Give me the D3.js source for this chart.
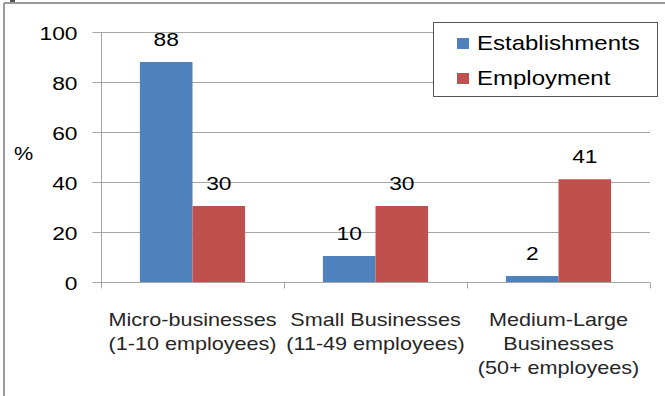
<!DOCTYPE html>
<html>
<head>
<meta charset="utf-8">
<script src="https://cdn.jsdelivr.net/npm/d3@7"></script>
<style>
  html, body { margin: 0; padding: 0; background: #fff; }
  svg { display: block; font-family: "Liberation Sans", Arial, sans-serif; }
</style>
</head>
<body>
<svg id="chart" width="665" height="396"></svg>
<script>
// ---- data ----
const categories = ["Micro-businesses", "Small Businesses", "Medium-Large Businesses"];
const categoryLines = [
  ["Micro-businesses", "(1-10 employees)"],
  ["Small Businesses", "(11-49 employees)"],
  ["Medium-Large", "Businesses", "(50+ employees)"]
];
const seriesNames = ["Establishments", "Employment"];
const establishments = [88, 10.4, 2.4];
const employment = [30.4, 30.4, 41.1];
const yTicks = [0, 20, 40, 60, 80, 100];
const yLabel = "%";

// ---- layout ----
const svg = d3.select("#chart");
const W = 665, H = 396;
const colors = { "Establishments": "#4F81BD", "Employment": "#C0504D" };
const SX = 1.2; // horizontal glyph stretch seen in the reference

const x = d3.scaleBand().domain(categories).range([101, 650]).paddingInner(0).paddingOuter(0);
const xs = d3.scaleBand().domain(seriesNames).range([0, x.bandwidth()]).paddingInner(0).paddingOuter(0.74);
const y = d3.scaleLinear().domain([0, 100]).range([282, 32]);

const rows = categories.map((c, i) => ({ cat: c, values: [
  { s: "Establishments", v: establishments[i] },
  { s: "Employment", v: employment[i] }
]}));

// frame
svg.append("line").attr("x1", 4).attr("x2", 4).attr("y1", 3).attr("y2", H).attr("stroke", "#9a9a9a").attr("stroke-width", 2);
svg.append("line").attr("x1", 4).attr("x2", W).attr("y1", 3).attr("y2", 3).attr("stroke", "#9a9a9a").attr("stroke-width", 2);
svg.append("rect").attr("x", 10).attr("y", 0).attr("width", 5).attr("height", 2).attr("fill", "#555");

function stretchedText(g, tx, ty, str, anchor) {
  return g.append("text")
    .attr("transform", `translate(${tx},${ty}) scale(${SX},1)`)
    .attr("text-anchor", anchor)
    .text(str);
}

// gridlines
svg.append("g").selectAll("line").data(yTicks.filter(d => d > 0)).join("line")
  .attr("x1", 101).attr("x2", 650)
  .attr("y1", d => Math.round(y(d)) + 0.5).attr("y2", d => Math.round(y(d)) + 0.5)
  .attr("stroke", "#a6a6a6").attr("stroke-width", 1);

// y axis
const yAxis = svg.append("g").attr("transform", "translate(101.5,0)")
  .call(d3.axisLeft(y).tickValues(yTicks).tickSize(9).tickFormat(""));
yAxis.select(".domain").attr("stroke", "#a6a6a6").attr("d", `M0,${y(100)}V${y(0)}`);
yAxis.selectAll(".tick line").attr("stroke", "#a6a6a6");
yAxis.selectAll(".tick").each(function(d) {
  d3.select(this).append("text")
    .attr("transform", `translate(-24,7) scale(${SX},1)`)
    .attr("text-anchor", "end")
    .attr("fill", "#000")
    .attr("font-size", 19)
    .text(d);
});

// y label
stretchedText(svg, 14, 160, yLabel, "start").attr("font-size", 18).attr("fill", "#000");

// x axis
const xAxis = svg.append("g").attr("transform", "translate(0,282.5)")
  .call(d3.axisBottom(x).tickSize(0).tickFormat(""));
xAxis.select(".domain").attr("stroke", "#a6a6a6").attr("d", "M101,0H650");
const bounds = [101].concat(categories.map(c => x(c) + x.bandwidth()));
xAxis.append("g").selectAll("line").data(bounds).join("line")
  .attr("x1", d => Math.round(d) + 0.5).attr("x2", d => Math.round(d) + 0.5)
  .attr("y1", 0).attr("y2", 6).attr("stroke", "#a6a6a6");

// bars
const groups = svg.append("g").selectAll("g").data(rows).join("g")
  .attr("transform", d => `translate(${x(d.cat)},0)`);
groups.selectAll("rect").data(d => d.values).join("rect")
  .attr("x", d => xs(d.s))
  .attr("width", xs.bandwidth())
  .attr("y", d => y(d.v))
  .attr("height", d => y(0) - y(d.v))
  .attr("fill", d => colors[d.s]);

// value labels
groups.each(function(d) {
  const g = d3.select(this);
  d.values.forEach(v => {
    stretchedText(g, xs(v.s) + xs.bandwidth() / 2, y(v.v) - 16, d3.format(".0f")(v.v), "middle")
      .attr("font-size", 19).attr("fill", "#000");
  });
});

// category labels
categories.forEach((c, i) => {
  const cx = x(c) + x.bandwidth() / 2;
  categoryLines[i].forEach((line, j) => {
    stretchedText(svg, cx, 326 + j * 24, line, "middle")
      .attr("font-size", 18).attr("fill", "#262626");
  });
});

// legend
const lg = svg.append("g");
lg.append("rect").attr("x", 433.5).attr("y", 22.5).attr("width", 224).attr("height", 74)
  .attr("fill", "#fff").attr("stroke", "#555").attr("stroke-width", 1);
seriesNames.forEach((s, i) => {
  const yy = 50 + i * 35;
  lg.append("rect").attr("x", 457).attr("y", yy - 12).attr("width", 12).attr("height", 11).attr("fill", colors[s]);
  stretchedText(lg, 477, yy, s, "start").attr("font-size", 20).attr("fill", "#000");
});
</script>
</body>
</html>
